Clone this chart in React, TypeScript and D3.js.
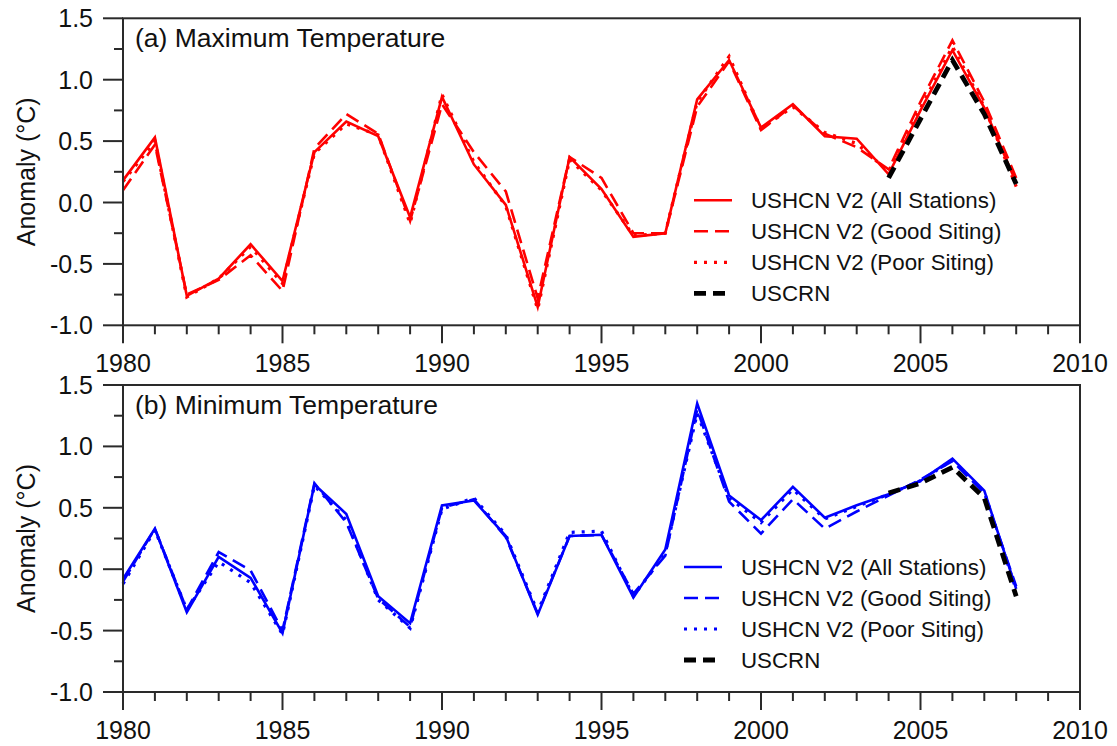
import React from 'react';
import * as d3 from 'd3';

// years 1980-2008
const years = [
  1980, 1981, 1982, 1983, 1984, 1985, 1986, 1987, 1988, 1989,
  1990, 1991, 1992, 1993, 1994, 1995, 1996, 1997, 1998, 1999,
  2000, 2001, 2002, 2003, 2004, 2005, 2006, 2007, 2008,
];
const crnYears = [2004, 2005, 2006, 2007, 2008];

// (a) maximum temperature anomalies
const tmaxAll = [0.18, 0.53, -0.76, -0.62, -0.34, -0.64, 0.41, 0.66, 0.54, -0.12, 0.86, 0.31, -0.02, -0.85, 0.37, 0.11, -0.28, -0.25, 0.84, 1.16, 0.61, 0.80, 0.54, 0.52, 0.23, 0.75, 1.24, 0.77, 0.16];
const tmaxGood = [0.10, 0.47, -0.75, -0.63, -0.43, -0.72, 0.44, 0.72, 0.56, -0.15, 0.80, 0.41, 0.09, -0.78, 0.37, 0.20, -0.25, -0.25, 0.78, 1.15, 0.59, 0.79, 0.56, 0.45, 0.27, 0.82, 1.32, 0.82, 0.20];
const tmaxPoor = [0.17, 0.50, -0.77, -0.62, -0.36, -0.66, 0.40, 0.64, 0.55, -0.17, 0.88, 0.33, -0.03, -0.87, 0.35, 0.10, -0.27, -0.25, 0.82, 1.19, 0.60, 0.78, 0.57, 0.48, 0.25, 0.77, 1.27, 0.78, 0.13];
const tmaxCrn = [0.20, 0.68, 1.16, 0.72, 0.15];

// (b) minimum temperature anomalies
const tminAll = [-0.08, 0.33, -0.35, 0.10, -0.07, -0.52, 0.69, 0.45, -0.22, -0.44, 0.52, 0.56, 0.27, -0.37, 0.27, 0.28, -0.23, 0.16, 1.35, 0.60, 0.40, 0.67, 0.42, 0.52, 0.61, 0.72, 0.90, 0.64, -0.16];
const tminGood = [-0.10, 0.33, -0.33, 0.14, -0.01, -0.50, 0.70, 0.38, -0.24, -0.47, 0.50, 0.57, 0.26, -0.36, 0.27, 0.28, -0.20, 0.11, 1.30, 0.55, 0.29, 0.57, 0.33, 0.47, 0.60, 0.73, 0.88, 0.62, -0.14];
const tminPoor = [-0.12, 0.32, -0.33, 0.06, -0.11, -0.53, 0.68, 0.40, -0.25, -0.48, 0.49, 0.58, 0.28, -0.35, 0.30, 0.31, -0.22, 0.13, 1.27, 0.58, 0.38, 0.65, 0.41, 0.51, 0.61, 0.72, 0.89, 0.63, -0.17];
const tminCrn = [0.62, 0.70, 0.83, 0.58, -0.22];

const xMajor = [1980, 1985, 1990, 1995, 2000, 2005, 2010];
const yMajor = [-1.0, -0.5, 0.0, 0.5, 1.0, 1.5];
const legendLabels = [
  'USHCN V2 (All Stations)',
  'USHCN V2 (Good Siting)',
  'USHCN V2 (Poor Siting)',
  'USCRN',
];

const FONT = "'Liberation Sans', Arial, sans-serif";
const AXIS = '#2a2a2a';

const left = 123;
const right = 1080;
const panelH = 307;

type PanelProps = {
  top: number;
  title: string;
  color: string;
  all: number[];
  good: number[];
  poor: number[];
  crn: number[];
  legendX: number;
};

const Panel = ({ top, title, color, all, good, poor, crn, legendX }: PanelProps) => {
  const x = d3.scaleLinear().domain([1980, 2010]).range([left, right]);
  const y = d3.scaleLinear().domain([-1, 1.5]).range([top + panelH, top]);
  const bottom = top + panelH;

  const line = d3.line<number>()
    .x((d, i) => x(years[i]))
    .y(d => y(d));
  const crnLine = d3.line<number>()
    .x((d, i) => x(crnYears[i]))
    .y(d => y(d));

  const xMinor = d3.range(1980, 2011).filter(v => v % 5 !== 0);
  const yMinor = d3.range(-0.75, 1.5, 0.5);

  const styles = [
    { stroke: color, width: 2.6, dash: undefined as string | undefined },
    { stroke: color, width: 2.6, dash: '14 7' },
    { stroke: color, width: 3.2, dash: '3 7' },
    { stroke: '#000', width: 4.8, dash: '12 7' },
  ];

  return (
    <g>
      {/* series */}
      <path d={line(poor) ?? ''} fill="none" stroke={color} strokeWidth={3.2} strokeDasharray="3 7" />
      <path d={line(good) ?? ''} fill="none" stroke={color} strokeWidth={2.6} strokeDasharray="14 7" />
      <path d={line(all) ?? ''} fill="none" stroke={color} strokeWidth={2.6} />
      <path d={crnLine(crn) ?? ''} fill="none" stroke="#000" strokeWidth={4.8} strokeDasharray="12 7" />

      {/* frame */}
      <rect x={left} y={top} width={right - left} height={panelH} fill="none" stroke={AXIS} strokeWidth={2} />

      {/* x ticks */}
      {xMajor.map(v => (
        <g key={'xm' + v}>
          <line x1={x(v)} x2={x(v)} y1={bottom} y2={bottom + 18} stroke={AXIS} strokeWidth={2} />
          <text x={x(v)} y={bottom + 47} textAnchor="middle" fontSize={25} fontFamily={FONT} fill="#111">{v}</text>
        </g>
      ))}
      {xMinor.map(v => (
        <line key={'xn' + v} x1={x(v)} x2={x(v)} y1={bottom} y2={bottom + 9} stroke={AXIS} strokeWidth={2} />
      ))}

      {/* y ticks */}
      {yMajor.map(v => (
        <g key={'ym' + v}>
          <line x1={left - 20} x2={left} y1={y(v)} y2={y(v)} stroke={AXIS} strokeWidth={2} />
          <text x={left - 30} y={y(v) + 9} textAnchor="end" fontSize={25} fontFamily={FONT} fill="#111">{v.toFixed(1)}</text>
        </g>
      ))}
      {yMinor.map(v => (
        <line key={'yn' + v} x1={left - 9} x2={left} y1={y(v)} y2={y(v)} stroke={AXIS} strokeWidth={2} />
      ))}

      <text
        transform={`translate(35, ${(top + bottom) / 2}) rotate(-90)`}
        textAnchor="middle" fontSize={25} fontFamily={FONT} fill="#111"
      >Anomaly (°C)</text>

      <text x={135} y={top + 29} fontSize={26.5} fontFamily={FONT} fill="#111">{title}</text>

      {/* legend */}
      {legendLabels.map((label, i) => {
        const ly = top + 182 + i * 31;
        const s = styles[i];
        return (
          <g key={label}>
            <line x1={legendX} x2={legendX + 38} y1={ly} y2={ly} stroke={s.stroke} strokeWidth={s.width} strokeDasharray={s.dash} />
            <text x={legendX + 57} y={ly + 8} fontSize={22.3} fontFamily={FONT} fill="#111">{label}</text>
          </g>
        );
      })}
    </g>
  );
};

export default function App() {
  return (
    <div style={{ position: 'absolute', left: 0, top: 0 }}>
      <svg width={1117} height={746} style={{ display: 'block', background: '#fff' }}>
        <Panel top={18.3} title="(a) Maximum Temperature" color="#ff0000"
          all={tmaxAll} good={tmaxGood} poor={tmaxPoor} crn={tmaxCrn} legendX={694} />
        <Panel top={385} title="(b) Minimum Temperature" color="#0000ff"
          all={tminAll} good={tminGood} poor={tminPoor} crn={tminCrn} legendX={684} />
      </svg>
    </div>
  );
}
